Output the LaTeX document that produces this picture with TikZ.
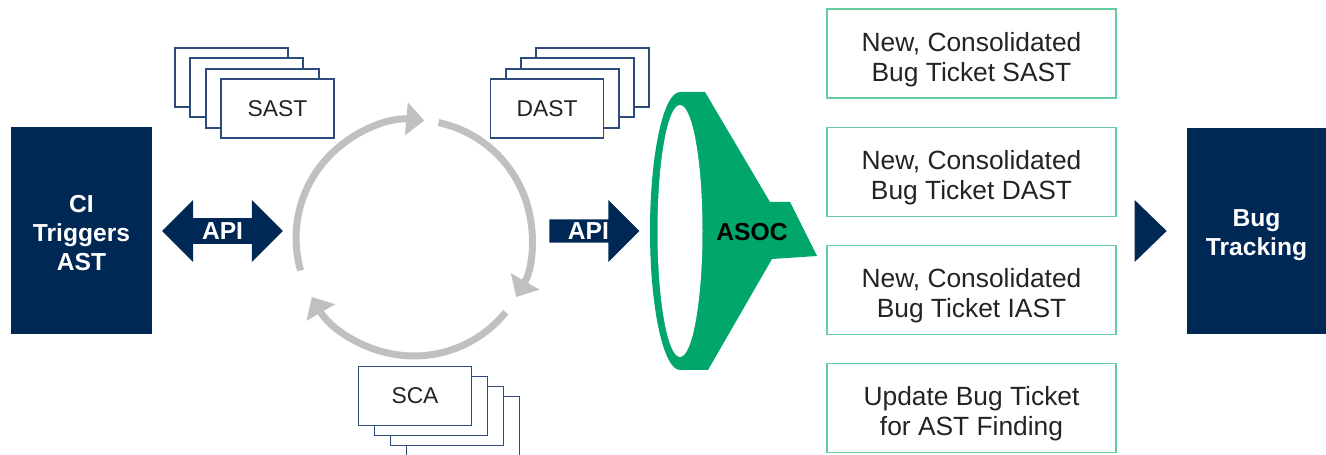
\documentclass[tikz,border=0pt]{standalone}
\usepackage{fontspec}
\setmainfont{Liberation Sans}
\usetikzlibrary{shapes.arrows,arrows.meta,calc}
\definecolor{navy}{RGB}{0,40,85}
\definecolor{asocgreen}{RGB}{0,166,106}
\definecolor{ticketgreen}{RGB}{100,205,160}
\definecolor{stackblue}{RGB}{45,75,125}
\definecolor{cyclegray}{RGB}{192,192,192}
\definecolor{textgray}{RGB}{35,35,35}
\begin{document}
\begin{tikzpicture}[x=0.02cm, y=-0.02cm,
navy_box/.style={rectangle,fill=navy,text=white,align=center,text depth=0pt,font=\fontsize{14}{16.5}\selectfont\bfseries},
api_style/.style={fill=navy,text=white,inner sep=0pt,minimum width=1.24cm,font=\fontsize{14}{16}\selectfont\bfseries},
doc_style/.style={rectangle,draw=stackblue,line width=1.1pt,fill=white,minimum width=2.26cm,minimum height=1.18cm,text=textgray,font=\fontsize{13}{15}\selectfont},
ticket_style/.style={rectangle,draw=ticketgreen,line width=1.1pt,minimum width=5.78cm,minimum height=1.78cm,align=center,text height=31.5pt,text depth=0pt,text=textgray,font=\fontsize{15}{17}\selectfont},
cycle_style/.style={draw=cyclegray,line width=4pt,-{Triangle[length=0.36cm,width=0.64cm]}}]
\useasboundingbox (0,0) rectangle (1326,455);
% left side
\node[navy_box,minimum width=2.82cm,minimum height=4.14cm,text height=46pt] (ci) at (81.5,230.5) {CI\\Triggers\\AST};
\node[api_style,double arrow,double arrow head extend=0.25cm,minimum height=2.42cm] (apil) at (222.5,231) {API};
% scan stacks
\foreach \k in {3,2,1}
  \node[doc_style] (sast\k) at (277.5-15.3*\k,108.5-10.3*\k) {};
\node[doc_style] (sast) at (277.5,108.5) {SAST};
\foreach \k in {3,2,1}
  \node[doc_style] (dast\k) at (547+15.3*\k,108.5-10.3*\k) {};
\node[doc_style] (dast) at (547,108.5) {DAST};
\foreach \k in {3,2,1}
  \node[doc_style] (sca\k) at (415+16*\k,396+10*\k) {};
\node[doc_style] (sca) at (415,396) {SCA};
% cycle
\coordinate (cyc) at (414,238);
\draw[cycle_style] ($(cyc)+(196:2.36cm)$) arc[start angle=196,end angle=85,radius=2.36cm];
\draw[cycle_style] ($(cyc)+(78:2.36cm)$) arc[start angle=78,end angle=-30,radius=2.36cm];
\draw[cycle_style] ($(cyc)+(-39:2.36cm)$) arc[start angle=-39,end angle=-150,radius=2.36cm];
\node[api_style,single arrow,single arrow head extend=0.29cm,minimum height=1.8cm,anchor=tail] (apir) at (549,231) {API};
% funnel
\coordinate (funnel) at (680,231);
\fill[asocgreen] (funnel) ellipse [x radius=0.6cm,y radius=2.78cm];
\fill[asocgreen] (680,92) -- (705,92) -- (770,202) -- (790,202) -- (817,256) -- (772,259) -- (708,370) -- (680,370) -- cycle;
\fill[white] (funnel) ellipse [x radius=0.45cm,y radius=2.52cm];
\node[font=\fontsize{14}{16}\selectfont\bfseries] (asoc) at (752,232) {ASOC};
% tickets
\node[ticket_style] (t1) at (971.5,53.5) {New, Consolidated\\Bug Ticket SAST};
\node[ticket_style] (t2) at (971.5,172) {New, Consolidated\\Bug Ticket DAST};
\node[ticket_style] (t3) at (971.5,290) {New, Consolidated\\Bug Ticket IAST};
\node[ticket_style] (t4) at (971.5,408) {Update Bug Ticket\\for AST Finding};
% bug tracking
\node[navy_box,minimum width=2.78cm,minimum height=4.12cm,text height=27.5pt] (bug) at (1256.5,231) {Bug\\Tracking};
\fill[navy] ($(bug.west)+(-52,-31)$) -- ($(bug.west)+(-20,0)$) -- ($(bug.west)+(-52,31)$) -- cycle;
\end{tikzpicture}
\end{document}
